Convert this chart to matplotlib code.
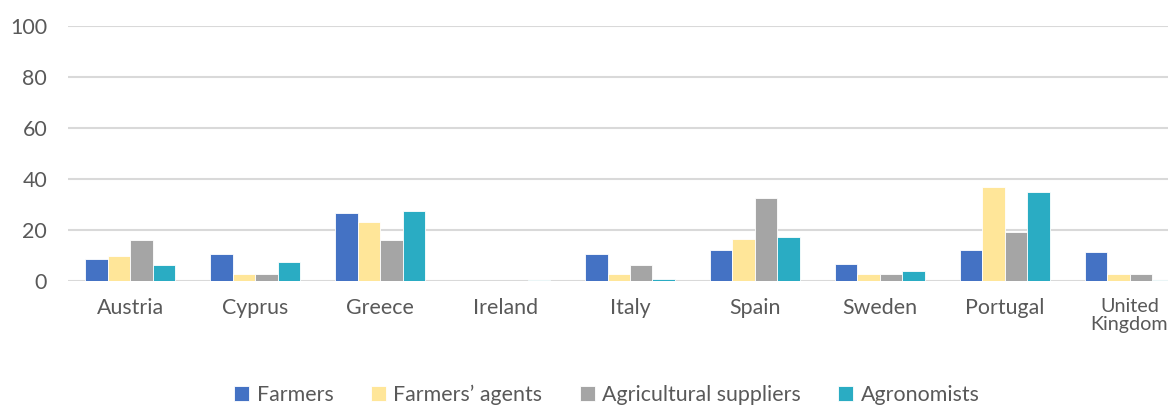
import matplotlib
matplotlib.use("Agg")
import matplotlib.pyplot as plt
import numpy as np

plt.rcParams['font.family'] = ['Lato', 'DejaVu Sans']

countries = ["Austria", "Cyprus", "Greece", "Ireland", "Italy", "Spain",
             "Sweden", "Portugal", "United\nKingdom"]
farmers = [8.7, 10.4, 26.7, 0.0, 10.4, 12.3, 6.8, 12.3, 11.3]
farmers_agents = [9.7, 2.9, 23.3, 0.0, 2.9, 16.5, 2.9, 36.9, 2.9]
agri_suppliers = [16.0, 2.8, 16.0, 0.0, 6.1, 32.4, 2.8, 19.3, 2.8]
agronomists = [6.4, 7.6, 27.6, 0.4, 0.8, 17.1, 4.0, 34.9, 0.3]

series = [
    ("Farmers", farmers, "#4472C4"),
    ("Farmers\u2019 agents", farmers_agents, "#FFE699"),
    ("Agricultural suppliers", agri_suppliers, "#A5A5A5"),
    ("Agronomists", agronomists, "#2AACC3"),
]

fs = 15.4

fig = plt.figure(figsize=(11.68, 4.05), dpi=100)
ax = fig.add_axes([68 / 1168, 124 / 405, 1124 / 1168, 255 / 405])

x = np.arange(len(countries))
w = 0.18
for i, (name, vals, col) in enumerate(series):
    ax.bar(x + (i - 1.5) * w, vals, width=w, color=col, label=name,
           edgecolor="white", linewidth=0.6, zorder=3)

ax.set_xlim(-0.5, len(countries) - 0.5)
ax.set_ylim(0, 100)
ax.set_yticks(range(0, 101, 20))
ax.set_xticks(x)
ax.set_xticklabels(countries, linespacing=1.1)
ax.yaxis.grid(True, color="#D9D9D9", linewidth=1.5, zorder=0)
for s in ax.spines.values():
    s.set_visible(False)
ax.tick_params(axis="both", length=0, labelsize=fs, colors="#595959")
ax.tick_params(axis="x", pad=12)
ax.tick_params(axis="y", pad=15)
# the last category label sits at the right edge; keep it inside the figure
ax.get_xticklabels()[-1].set_fontsize(14.2)

fig.legend(loc="center", bbox_to_anchor=(607 / 1168, 10 / 405), ncol=4,
           frameon=False, fontsize=fs, handlelength=0.7, handleheight=0.7,
           handletextpad=0.35, columnspacing=1.75, labelcolor="#595959")

fig.savefig("out.png", dpi=100)
